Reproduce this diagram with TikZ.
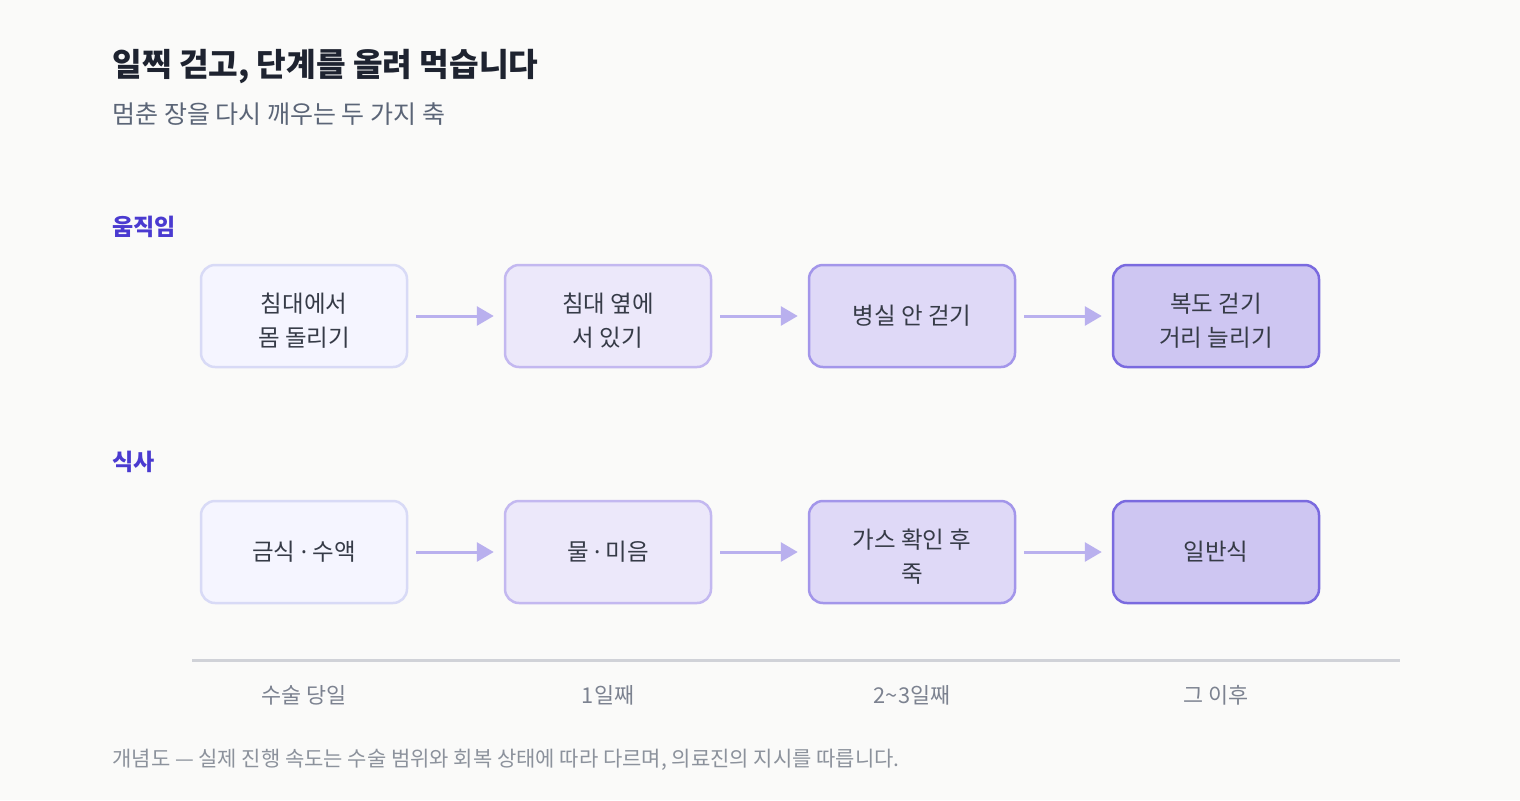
\documentclass[tikz,border=0pt]{standalone}
\usepackage{fontspec}
\setmainfont{Noto Sans CJK KR}
\newfontfamily\latinf{Noto Sans}
\usetikzlibrary{arrows.meta}
\definecolor{bg}{HTML}{FAFAF9}
\definecolor{titlec}{HTML}{1E2330}
\definecolor{subc}{HTML}{5B6577}
\definecolor{secc}{HTML}{4A3AD0}
\definecolor{txt}{HTML}{363B47}
\definecolor{lbl}{HTML}{7C8290}
\definecolor{note}{HTML}{8C929C}
\definecolor{arrc}{HTML}{B9B0EE}
\definecolor{linec}{HTML}{D0D2D8}
\definecolor{fa}{HTML}{F5F5FF}\definecolor{sa}{HTML}{D8DAF6}
\definecolor{fb}{HTML}{ECE8FA}\definecolor{sb}{HTML}{C3B8F0}
\definecolor{fc}{HTML}{DFD9F7}\definecolor{sc}{HTML}{A396EA}
\definecolor{fd}{HTML}{CEC6F2}\definecolor{sd}{HTML}{7A6ADF}
\newcommand\firstl{\rule{0pt}{14.5pt}}
\newcommand\mdot{{\latinf ·}}
\tikzset{
  box/.style={rounded corners=7pt, minimum width=103pt, minimum height=51pt,
    line width=1.25pt, align=center, inner sep=0pt, text=txt,
    font=\fontsize{11.75}{17}\selectfont},
  lva/.style={box, fill=fa, draw=sa},
  lvb/.style={box, fill=fb, draw=sb},
  lvc/.style={box, fill=fc, draw=sc},
  lvd/.style={box, fill=fd, draw=sd},
  arr/.style={draw=arrc, line width=1.5pt, shorten <=4pt, shorten >=5pt,
    -{Triangle[length=8.5pt,width=9.5pt]}},
  sec/.style={anchor=west, inner sep=0pt, text=secc, font=\fontsize{11.5}{13}\selectfont\bfseries},
  daylbl/.style={inner sep=0pt, text=lbl, font=\fontsize{10.9}{13}\selectfont},
}
\begin{document}
\begin{tikzpicture}[x=0.5pt,y=-0.5pt]
\fill[bg] (0,0) rectangle (1520,800);
\useasboundingbox (0,0) rectangle (1520,800);

\node[anchor=west, inner sep=0pt, text=titlec, font=\fontsize{16.1}{19}\selectfont\bfseries] (title) at (112,67) {일찍 걷고, 단계를 올려 먹습니다};
\node[anchor=west, inner sep=0pt, text=subc, font=\fontsize{12.5}{15}\selectfont] (subtitle) at (112,114) {멈춘 장을 다시 깨우는 두 가지 축};

\node[sec] (s1) at (112,227) {움직임};
\node[sec] (s2) at (112,462) {식사};

\node[lva] (m1) at (304,316) {\firstl 침대에서\\몸 돌리기};
\node[lvb] (m2) at (608,316) {\firstl 침대 옆에\\서 있기};
\node[lvc] (m3) at (912,316) {병실 안 걷기};
\node[lvd] (m4) at (1216,316) {\firstl 복도 걷기\\거리 늘리기};

\node[lva] (f1) at (304,552) {금식 \mdot{} 수액};
\node[lvb] (f2) at (608,552) {물 \mdot{} 미음};
\node[lvc] (f3) at (912,552) {\firstl 가스 확인 후\\죽};
\node[lvd] (f4) at (1216,552) {일반식};

\draw[arr] (m1.east) -- (m2.west);
\draw[arr] (m2.east) -- (m3.west);
\draw[arr] (m3.east) -- (m4.west);
\draw[arr] (f1.east) -- (f2.west);
\draw[arr] (f2.east) -- (f3.west);
\draw[arr] (f3.east) -- (f4.west);

\coordinate (t0) at (192,660);
\coordinate (t1) at (1400,660);
\draw[draw=linec, line width=1.5pt] (t0) -- (t1);

\node[daylbl] (d1) at (304,695) {수술 당일};
\node[daylbl] (d2) at (608,695) {1일째};
\node[daylbl] (d3) at (912,695) {2\textasciitilde3일째};
\node[daylbl] (d4) at (1216,695) {그 이후};

\node[anchor=west, inner sep=0pt, text=note, font=\fontsize{10.5}{13}\selectfont] (foot) at (112,760) {개념도 — 실제 진행 속도는 수술 범위와 회복 상태에 따라 다르며, 의료진의 지시를 따릅니다.};
\end{tikzpicture}
\end{document}
